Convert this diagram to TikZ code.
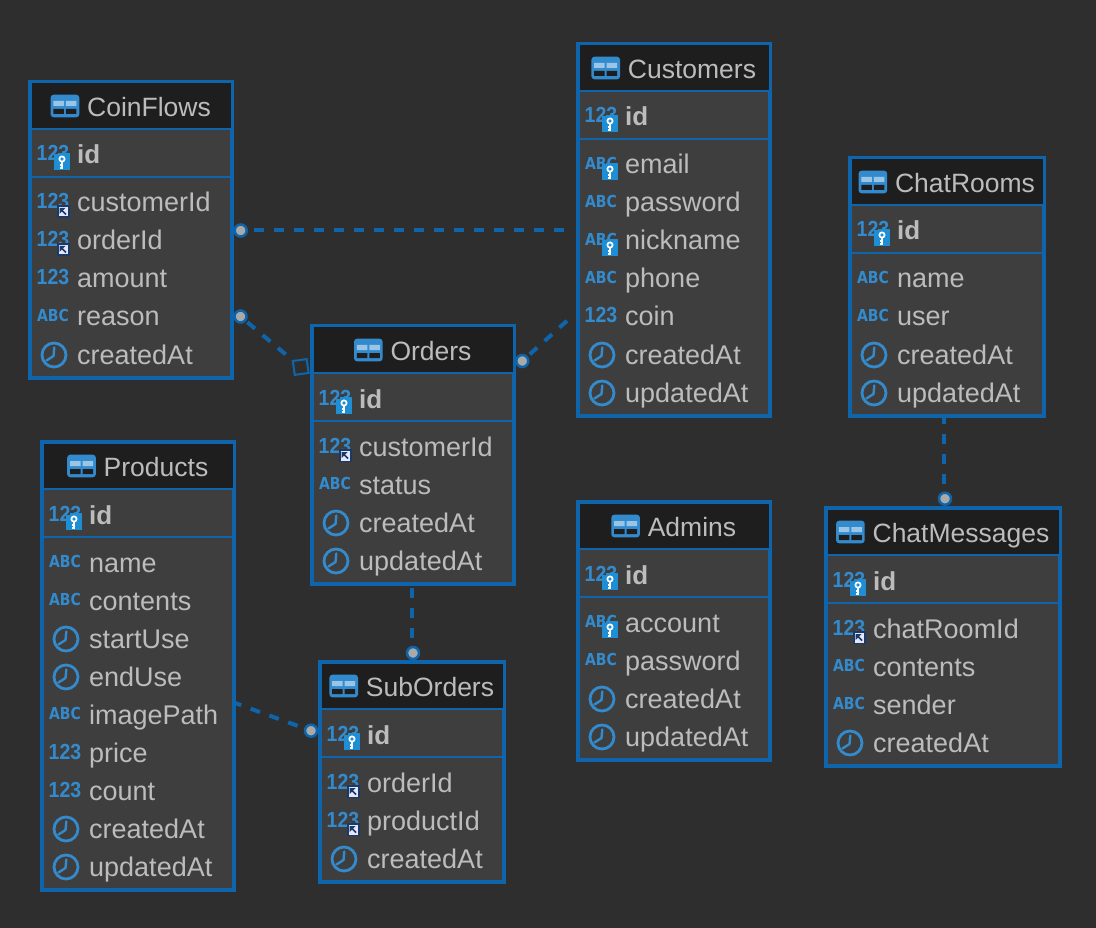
\documentclass[tikz,border=0pt]{standalone}
\usepackage{fontspec}
\setmainfont{Liberation Sans}
\newfontfamily\iconfont{DejaVu Sans}
\definecolor{bgc}{HTML}{2E2E2E}
\definecolor{rowc}{HTML}{3E3E3E}
\definecolor{headc}{HTML}{1E1E1E}
\definecolor{edgec}{HTML}{0F65AB}
\definecolor{txtc}{HTML}{BCBCBC}
\definecolor{iconc}{HTML}{338BCE}
\definecolor{keyc}{HTML}{1E8FD5}
\definecolor{navyc}{HTML}{1C3A66}
\definecolor{dotc}{HTML}{A9A9A9}
\tikzset{
  x=1pt,y=-1pt,
  framebox/.style={draw=edgec,line width=4pt,fill=rowc,inner sep=0pt,outer sep=0pt,rectangle},
  rowtext/.style={text=txtc,font=\fontsize{27}{30}\selectfont,anchor=base west,inner sep=0pt},
  idtext/.style={rowtext,font=\fontsize{26}{30}\selectfont\bfseries},
  headtext/.style={text=txtc,font=\fontsize{26.5}{30}\selectfont,anchor=base,inner sep=0pt},
  numicon/.style={text=iconc,font=\fontsize{19.5}{22}\selectfont\bfseries,inner sep=0pt,anchor=base},
  abcicon/.style={text=iconc,font=\iconfont\fontsize{14}{18}\selectfont\bfseries,inner sep=0pt,anchor=base},
  sepline/.style={draw=edgec,line width=2.6pt},
  link/.style={draw=edgec,line width=4pt,dash pattern=on 10pt off 10pt},
  enddot/.style={circle,draw=edgec,line width=2.5pt,fill=dotc,minimum size=12pt,inner sep=0pt,outer sep=0pt},
  endsquare/.style={rectangle,draw=edgec,line width=2pt,fill=none,minimum size=14pt,inner sep=0pt,outer sep=0pt,rotate=8},
}
% ---- icons, all placed about a centre (#1,#2)
\newcommand{\iconNum}[2]{\path (#1,#2+6) node[numicon] {\scalebox{1}[1.12]{123}};}
\newcommand{\iconAbc}[2]{\path (#1,#2+4.5) node[abcicon] {\scalebox{1}[1.18]{ABC}};}
\newcommand{\iconClock}[2]{%
  \draw[iconc,line width=2.8pt] (#1+1,#2) circle (12pt);
  \draw[iconc,line width=2.4pt,line cap=round,line join=round] (#1+1.3,#2-7.5) -- (#1+.5,#2+1) -- (#1-6.5,#2+5.5);}
\newcommand{\iconKey}[2]{%
  \fill[keyc] (#1+1,#2+15) rectangle (#1+17,#2-.5);
  \fill[keyc] (#1+5,#2-2) rectangle (#1+17,#2+1);
  \draw[white,line width=1.7pt] (#1+9,#2+4) circle (2.6pt);
  \draw[white,line width=2pt] (#1+9,#2+6.5) -- (#1+9,#2+14);
  \draw[white,line width=1.4pt] (#1+9,#2+10) -- (#1+6.5,#2+10) (#1+9,#2+13) -- (#1+6.5,#2+13);}
\newcommand{\iconFk}[2]{%
  \fill[navyc] (#1+3.5,#2+2) rectangle (#1+16.5,#2+15);
  \fill[white!90!blue] (#1+5.5,#2+4) rectangle (#1+15,#2+13.5);
  \fill[navyc] (#1+6.5,#2+5) -- (#1+12.5,#2+5) -- (#1+6.5,#2+11) -- cycle;
  \draw[navyc,line width=1.6pt] (#1+8,#2+6.5) -- (#1+13,#2+11.5);}
\newcommand{\iconHead}[1]{%
  \path (#1.west) ++(-22,0) coordinate (hc);
  \path (hc |- headrow) coordinate (hc);
  \begin{scope}[shift={(hc)}]
  \fill[iconc,rounded corners=3pt] (-14.3,-11.3) rectangle (14.3,11.3);
  \fill[iconc!50!white] (-11.5,-5) rectangle (-1,0) (1,-5) rectangle (11.5,0);
  \fill[headc] (-11.5,3) rectangle (-1,8) (1,3) rectangle (11.5,8);
  \end{scope}}
% ---- one table: name, left, right, top, number of rows, rows type/label
\newcommand{\dbtable}[6]{%
  \pgfmathsetmacro{\tx}{#2}\pgfmathsetmacro{\ty}{#4}\pgfmathsetmacro{\tr}{#3}
  \pgfmathsetmacro{\tbottom}{#4+121+38*(#5-1)+23}
  \pgfmathsetmacro{\tw}{#3-#2}\pgfmathsetmacro{\th}{\tbottom-#4}
  \node[framebox,minimum width=\tw pt,minimum height=\th pt] (#1) at ({(#2+#3)/2},{(#4+\tbottom)/2}) {};
  \fill[headc] (\tx+1.5,\ty+1.5) rectangle (\tr-1.5,\ty+47);
  \draw[sepline] (\tx,\ty+47) -- (\tr,\ty+47);
  \draw[sepline] (\tx,\ty+95) -- (\tr,\ty+95);
  \coordinate (headrow) at (\tx,\ty+24);
  \path ({(#2+#3)/2+18},\ty+34.5) node[headtext] (#1-head) {#1};
  \iconHead{#1-head}
  \path (\tx+47,\ty+73+9) node[idtext] (#1-id) {id};
  \iconNum{\tx+23}{\ty+73}\iconKey{\tx+23}{\ty+73}
  \foreach \k/\lab [count=\i from 0] in {#6} {
    \pgfmathsetmacro{\ry}{\ty+121+38*\i}
    \path (\tx+47,\ry+9) node[rowtext] (#1-\i) {\lab};
    \if\k c\iconClock{\tx+23}{\ry}\fi
    \if\k n\iconNum{\tx+23}{\ry}\fi
    \if\k a\iconAbc{\tx+23}{\ry}\fi
    \if\k f\iconNum{\tx+23}{\ry}\iconFk{\tx+23}{\ry}\fi
    \if\k k\iconAbc{\tx+23}{\ry}\iconKey{\tx+23}{\ry}\fi
  }
}
\begin{document}
\begin{tikzpicture}
\path[use as bounding box,fill=bgc] (0,0) rectangle (1096,928);
\dbtable{CoinFlows}{30}{232}{82}{5}{f/customerId,f/orderId,n/amount,a/reason,c/createdAt}
\dbtable{Customers}{578}{770}{44}{7}{k/email,a/password,k/nickname,a/phone,n/coin,c/createdAt,c/updatedAt}
\dbtable{ChatRooms}{850}{1044}{158}{4}{a/name,a/user,c/createdAt,c/updatedAt}
\dbtable{Orders}{312}{514}{326}{4}{f/customerId,a/status,c/createdAt,c/updatedAt}
\dbtable{Products}{42}{234}{442}{9}{a/name,a/contents,c/startUse,c/endUse,a/imagePath,n/price,n/count,c/createdAt,c/updatedAt}
\dbtable{SubOrders}{320}{504}{662}{3}{f/orderId,f/productId,c/createdAt}
\dbtable{Admins}{578}{770}{502}{4}{k/account,a/password,c/createdAt,c/updatedAt}
\dbtable{ChatMessages}{826}{1060}{508}{4}{f/chatRoomId,a/contents,a/sender,c/createdAt}
% connector ends
\node[enddot] (dotA) at (240.7,230.5) {};
\node[enddot] (dotB) at (240.5,316.5) {};
\node[endsquare] (sqB) at (300.7,367) {};
\node[enddot] (dotC) at (522.3,361) {};
\node[enddot] (dotD) at (413,653) {};
\node[enddot] (dotE) at (311,730.7) {};
\node[enddot] (dotF) at (945,498.7) {};
\coordinate (endA) at (564,230);
\coordinate (endC) at (569,319);
\coordinate (startD) at (412,587.7);
\coordinate (startE) at (235,703);
\coordinate (startF) at (944,417);
\draw[link,dash phase=13.2pt] (dotA.east |- endA) -- (endA);
\draw[link,dash phase=17.1pt] (dotB) -- (sqB);
\draw[link,dash phase=16pt] (dotC) -- (endC);
\draw[link] (startD) -- (startD |- dotD.north);
\draw[link,dash phase=3.4pt] (startE) -- (dotE);
\draw[link,dash phase=3pt] (startF) -- (startF |- dotF.north);
\end{tikzpicture}
\end{document}
